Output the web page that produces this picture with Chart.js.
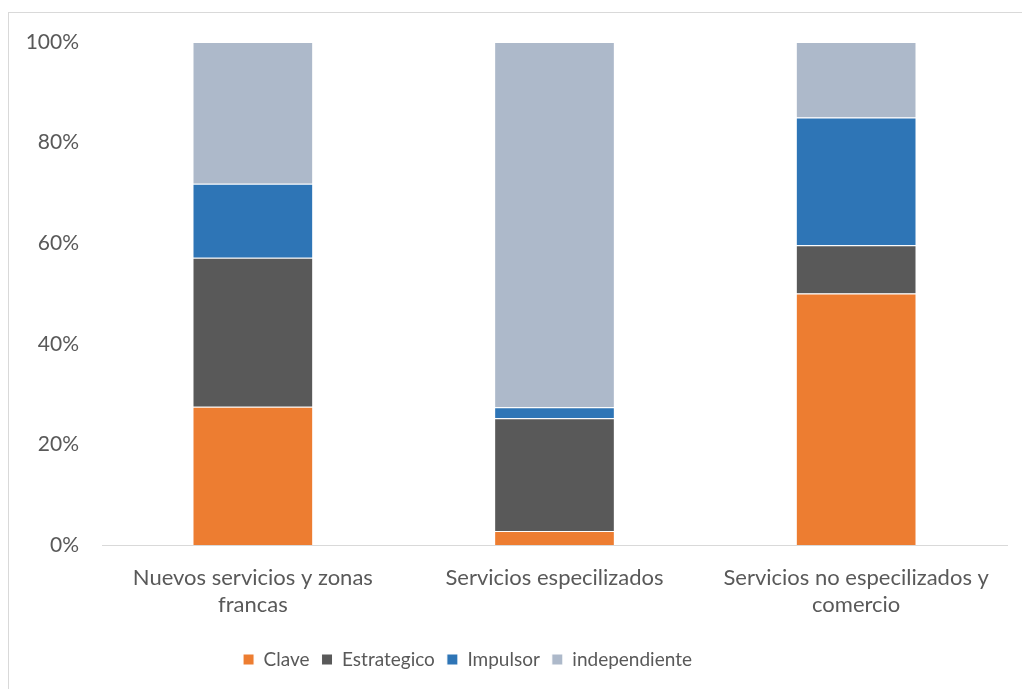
<!DOCTYPE html>
<html>
<head>
<meta charset="utf-8">
<script src="https://cdn.jsdelivr.net/npm/chart.js@4/dist/chart.umd.min.js"></script>
<style>
    html, body { margin: 0; padding: 0; background: #ffffff; }
    #wrap { width: 1022px; height: 689px; position: relative; }
</style>
</head>
<body>
<div id="wrap"><canvas id="chart"></canvas></div>
<script>
const categories = [
    ['Nuevos servicios y zonas', 'francas'],
    'Servicios especilizados',
    ['Servicios no especilizados y', 'comercio'],
];

// shares in percent, bottom to top
const clave = [27.5, 2.8, 50.0];
const estrategico = [29.6, 22.4, 9.6];
const impulsor = [14.7, 2.2, 25.4];
const independiente = [28.2, 72.6, 15.0];

const yTicks = [0, 20, 40, 60, 80, 100];

const palette = {
    clave: '#ed7d31',
    estrategico: '#595959',
    impulsor: '#2e75b6',
    independiente: '#adb9ca',
    text: '#595959',
    line: '#d9d9d9',
};

const axisFont = { family: 'Lato, sans-serif', size: 21, lineHeight: 1.3 };
const labelFont = { family: 'Lato, sans-serif', size: 22, lineHeight: 1.25 };
const legendFont = { family: 'Lato, sans-serif', size: 19, lineHeight: 1.3 };

// light frame around the whole chart, legend nudged left of centre
const framePlugin = {
    id: 'frame',
    afterLayout(chart) {
        chart.legend.left -= 36;
        chart.legend.right -= 36;
    },
    beforeDraw(chart) {
        const ctx = chart.ctx;
        ctx.save();
        ctx.strokeStyle = palette.line;
        ctx.lineWidth = 1;
        ctx.strokeRect(8.5, 12.5, 1200, 900);
        ctx.restore();
    },
};

function series(label, data, color) {
    return {
        label,
        data,
        backgroundColor: color,
        borderColor: '#ffffff',
        borderWidth: 1,
        borderSkipped: 'start',
        barPercentage: 0.4,
        categoryPercentage: 1,
    };
}

new Chart(document.getElementById('chart'), {
    type: 'bar',
    data: {
        labels: categories,
        datasets: [
            series('Clave', clave, palette.clave),
            series('Estrategico', estrategico, palette.estrategico),
            series('Impulsor', impulsor, palette.impulsor),
            series('independiente', independiente, palette.independiente),
        ],
    },
    options: {
        responsive: true,
        maintainAspectRatio: false,
        animation: false,
        layout: { padding: { top: 42, right: 15, left: 0, bottom: 10 } },
        scales: {
            x: {
                stacked: true,
                grid: { display: false },
                border: { display: true, color: palette.line, width: 1 },
                ticks: { color: palette.text, font: labelFont, padding: 11, maxRotation: 0, autoSkip: false },
                afterFit(scale) { scale.height = 93; },
            },
            y: {
                stacked: true,
                min: 0,
                max: 100,
                afterBuildTicks(scale) { scale.ticks = yTicks.map((value) => ({ value })); },
                grid: { display: false },
                border: { display: false },
                ticks: {
                    color: palette.text,
                    font: axisFont,
                    padding: 15,
                    callback: (v) => v + '%',
                },
                afterFit(scale) { scale.width = 102; },
            },
        },
        plugins: {
            legend: {
                position: 'bottom',
                labels: {
                    color: palette.text,
                    font: legendFont,
                    boxWidth: 11,
                    boxHeight: 11,
                    padding: 12,
                },
            },
            tooltip: { enabled: false },
        },
    },
    plugins: [framePlugin],
});
</script>
</body>
</html>
